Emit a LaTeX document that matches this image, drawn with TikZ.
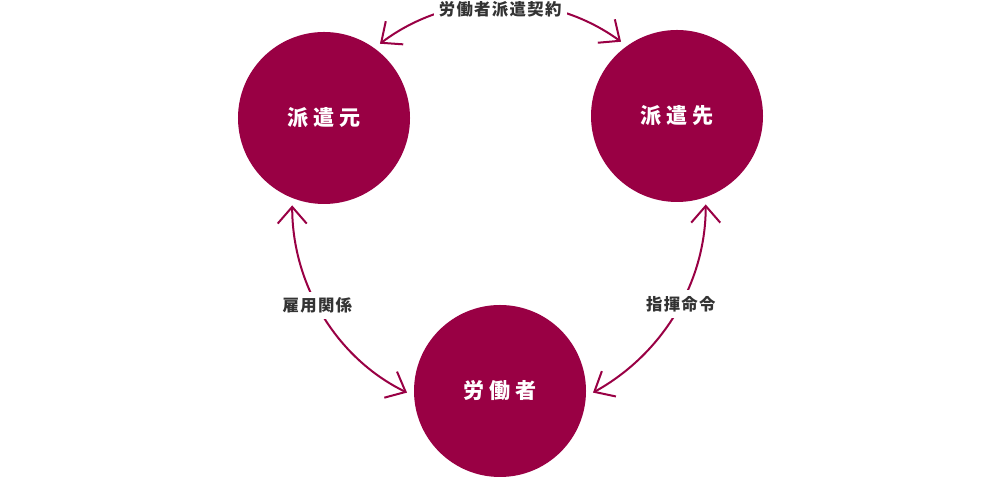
\documentclass[tikz,border=0pt]{standalone}
\usepackage{fontspec}
\newfontfamily\jp{Noto Sans CJK JP}
\usetikzlibrary{arrows.meta}
\definecolor{haken}{HTML}{990044}
\definecolor{moji}{HTML}{333333}
\begin{document}
\begin{tikzpicture}[x=0.03cm,y=0.03cm,
		maru/.style={circle,fill=haken,minimum size=5.16cm,inner sep=0pt,outer sep=0.21cm,text=white,font=\jp\bfseries\fontsize{18}{20}\selectfont\addfontfeatures{LetterSpace=22}},
		ya/.style={haken,line width=0.06cm,{Straight Barb[length=0.5cm,width=0.87cm]}-{Straight Barb[length=0.5cm,width=0.87cm]}},
		kankei/.style={fill=white,text=moji,inner xsep=0.15cm,inner ysep=0.18cm,font=\jp\bfseries\fontsize{14}{16}\selectfont\addfontfeatures{LetterSpace=8}}]
		\useasboundingbox (0,0) rectangle (1000,484);
		\node[maru] (moto) at (324,366) {派遣元};
		\node[maru] (saki) at (677,368) {派遣先};
		\node[maru] (rodo) at (500,93) {労働者};
		\draw[ya] (moto.53) to[out=37,in=144,looseness=0.94] node[kankei,pos=0.5,yshift=-0.18cm] {労働者派遣契約} (saki.127);
		\draw[ya] (moto.250) to[out=-90,in=154,looseness=0.92] node[kankei,pos=0.45] {雇用関係} (rodo.181);
		\draw[ya] (saki.288) to[out=-90,in=29,looseness=0.92] node[kankei,pos=0.45] {指揮命令} (rodo.-1);
	\end{tikzpicture}
\end{document}
